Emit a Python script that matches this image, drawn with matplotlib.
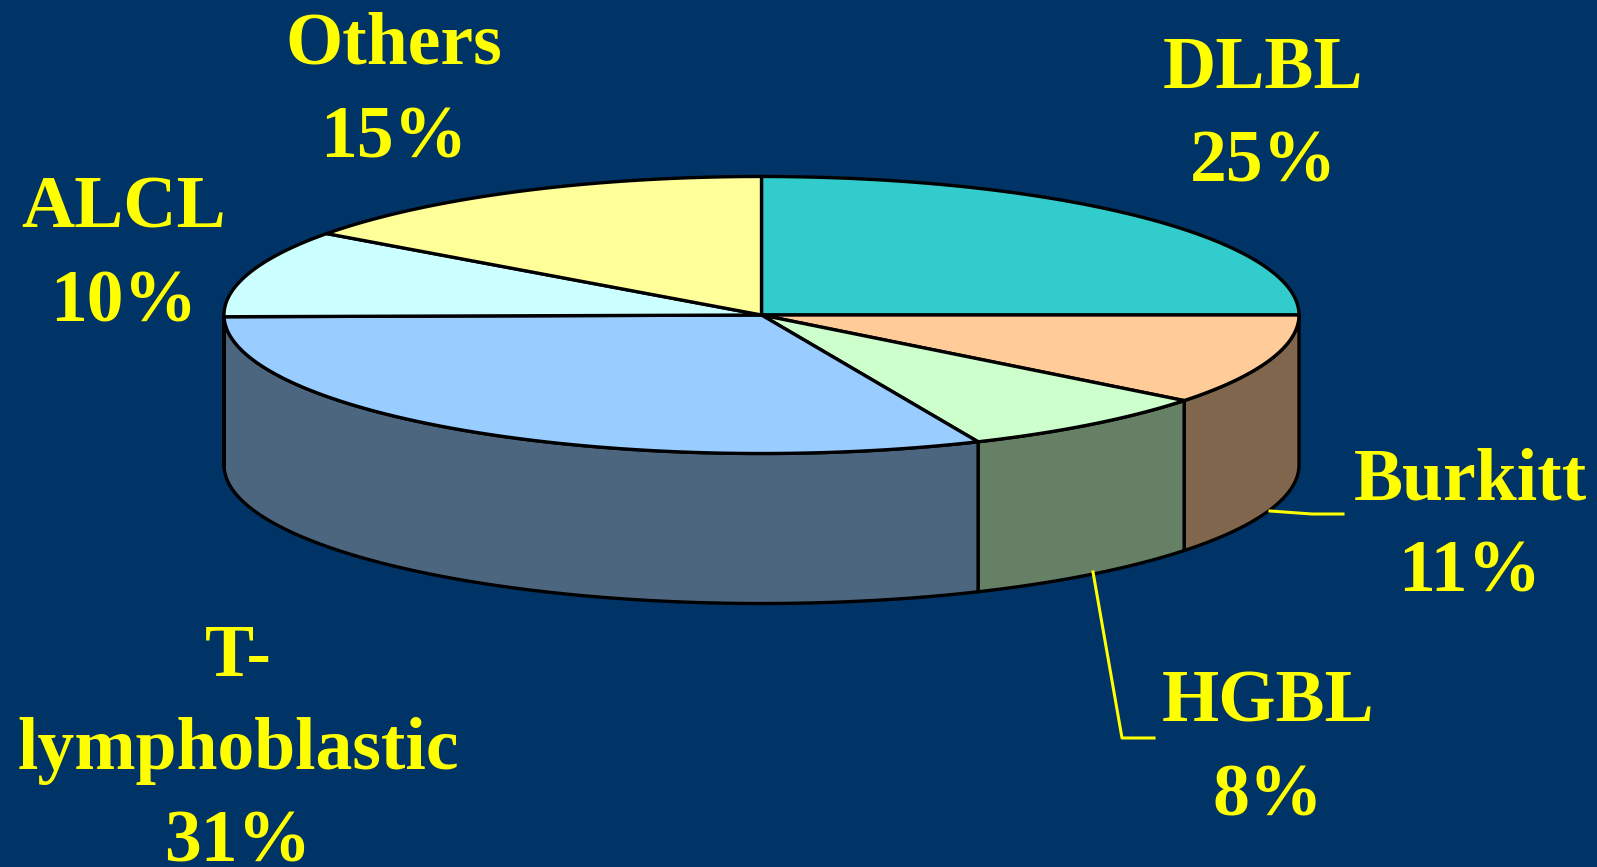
import numpy as np
import matplotlib.pyplot as plt
from matplotlib.patches import Polygon

# data (slice sizes; labels show them rounded)
labels = ['DLBL', 'Burkitt', 'HGBL', 'T-\nlymphoblastic', 'ALCL', 'Others']
shares = [25.0, 10.6, 7.8, 31.4, 10.2, 15.0]
top_colors = ['#33CCCC', '#FFCC99', '#CCFFCC', '#99CCFF', '#CCFFFF', '#FFFF99']

# layout (pixels, y down)
W, H = 1597, 867
cx, cy = 761.5, 315.0
rx, ry = 537.5, 138.5
depth = 150.0
bg = '#003366'
yellow = '#FFFF00'
# label anchor: centre x, baseline y of each line
label_pos = [
    (1263, [88, 182]),
    (1470, [499, 591]),
    (1268, [722, 815]),
    (238, [676, 769, 861]),
    (124, [228, 322]),
    (394, [64, 157]),
]

def darker(c, f=0.5):
    c = c.lstrip('#')
    rgb = [int(c[i:i + 2], 16) / 255 for i in (0, 2, 4)]
    return tuple(v * f for v in rgb)

def pt(t, dy=0.0):
    return cx + rx * np.cos(t), cy - ry * np.sin(t) + dy

fig = plt.figure(figsize=(W / 100, H / 100), dpi=100, facecolor=bg)
ax = fig.add_axes([0, 0, 1, 1])
ax.set_facecolor(bg)
ax.set_xlim(0, W)
ax.set_ylim(H, 0)
ax.axis('off')

# slice angles, clockwise from 12 o'clock
bounds = 90 - 360 * np.concatenate([[0], np.cumsum(shares)]) / sum(shares)
lw = 2.4

# side walls (front half only: angles between -180 and 0)
for i in range(len(shares)):
    a1, a2 = bounds[i], bounds[i + 1]
    s1, s2 = min(a1, 0), max(a2, -180)
    if s1 <= s2:
        continue
    t = np.radians(np.linspace(s1, s2, 120))
    xt, yt = pt(t)
    xb, yb = pt(t[::-1], depth)
    poly = Polygon(np.column_stack([np.r_[xt, xb], np.r_[yt, yb]]),
                   closed=True, facecolor=darker(top_colors[i]),
                   edgecolor='black', linewidth=lw, joinstyle='round')
    ax.add_patch(poly)

# top face
for i in range(len(shares)):
    t = np.radians(np.linspace(bounds[i], bounds[i + 1], 150))
    xt, yt = pt(t)
    poly = Polygon(np.column_stack([np.r_[cx, xt], np.r_[cy, yt]]),
                   closed=True, facecolor=top_colors[i],
                   edgecolor='black', linewidth=lw, joinstyle='round')
    ax.add_patch(poly)

# leader lines
ax.plot([1270, 1312, 1343], [511, 514, 514], color=yellow, lw=2.2)
ax.plot([1093, 1122, 1154], [572, 738, 738], color=yellow, lw=2.2)

# labels
for lab, s, (x, ys) in zip(labels, shares, label_pos):
    lines = lab.split('\n') + [f'{s:.0f}%']
    for line, y in zip(lines, ys):
        ax.text(x, y, line, ha='center', va='baseline', color=yellow,
                fontsize=53, fontweight='bold', family='Liberation Serif')

fig.savefig('out.png', dpi=100, facecolor=bg)
